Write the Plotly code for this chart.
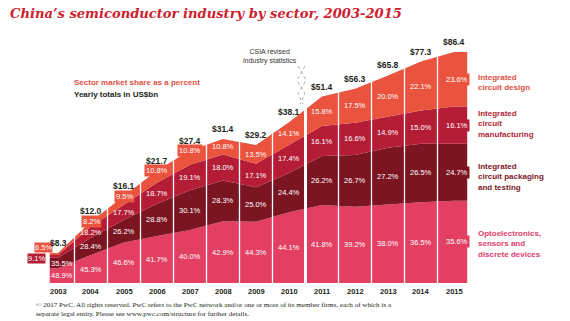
import math
import plotly.graph_objects as go

# ---------------- data ----------------
years = [2003, 2004, 2005, 2006, 2007, 2008, 2009, 2010, 2011, 2012, 2013, 2014, 2015]
totals = [8.3, 12.0, 16.1, 21.7, 27.4, 31.4, 29.2, 38.1, 51.4, 56.3, 65.8, 77.3, 86.4]
opto_share = [48.9, 45.3, 46.6, 41.7, 40.0, 42.9, 44.3, 44.1, 41.8, 39.2, 38.0, 36.5, 35.6]
packaging_share = [35.5, 28.4, 26.2, 28.8, 30.1, 28.3, 25.0, 24.4, 26.2, 26.7, 27.2, 26.5, 24.7]
manufacturing_share = [9.1, 18.2, 17.7, 18.7, 19.1, 18.0, 17.1, 17.4, 16.1, 16.6, 14.9, 15.0, 16.1]
design_share = [6.5, 8.2, 9.5, 10.8, 10.8, 10.8, 13.5, 14.1, 15.8, 17.5, 20.0, 22.1, 23.6]
sector_names = ["Optoelectronics,<br>sensors and<br>discrete devices",
                "Integrated<br>circuit packaging<br>and testing",
                "Integrated<br>circuit<br>manufacturing",
                "Integrated<br>circuit design"]
revision_year = 2010  # CSIA revised industry statistics after this year

# ---------------- styling ----------------
W, H = 570, 321
colors = ["#E23F62", "#7B1521", "#B41D35", "#EA533E"]
text_colors = ["#E0406A", "#7A1626", "#B01E36", "#E0503F"]
SANS = "Liberation Sans, Arial, sans-serif"
SERIF = "DejaVu Serif, serif"

# axes: x in years, y logarithmic (infographic column heights), segments split by share
x_px0, x_step = 58, 33
x_range = [2003 - x_px0 / x_step, 2003 + (W - x_px0) / x_step]
y_lo, y_hi = 0.5748, 2.2001
bottom_px = 283
base = 10 ** (y_lo + (H - bottom_px) / H * (y_hi - y_lo))


def X(px):
    return px / W


def Y(py):
    return 1 - py / H


shares = [opto_share, packaging_share, manufacturing_share, design_share]
n = len(years)
sums = [sum(s[i] for s in shares) for i in range(n)]


def level(i, frac):
    return base * (totals[i] / base) ** frac


cum = []
acc = [0.0] * n
for s in shares:
    lo = acc[:]
    acc = [acc[i] + s[i] / sums[i] for i in range(n)]
    cum.append((lo, acc[:]))

xs = [years[0] - 0.25] + years + [years[-1] + 0.4]


def ext(v):
    return [v[0]] + v + [v[-1]]


fig = go.Figure()
fig.add_trace(go.Scatter(x=xs, y=[base] * len(xs), mode="lines",
                         line=dict(width=0), showlegend=False, hoverinfo="skip"))
for k, s in enumerate(shares):
    top = [level(i, cum[k][1][i]) for i in range(n)]
    fig.add_trace(go.Scatter(x=xs, y=ext(top), mode="lines", line=dict(width=0),
                             fill="tonexty", fillcolor=colors[k], showlegend=False,
                             hoverinfo="skip"))

ann = []
# percentage labels (annotation y on a log axis is given in log10 units)
for k, s in enumerate(shares):
    for i in range(n):
        mid = (cum[k][0][i] + cum[k][1][i]) / 2
        d = dict(x=years[i], y=math.log10(level(i, mid)), yref="y", xref="x",
                 xanchor="center", yanchor="middle",
                 text=f"{s[i]:.1f}%", showarrow=False,
                 font=dict(family=SANS, size=7.5, color="white"))
        if i == 0 and k < 2:
            d.update(xshift=4)
        if k == 3 and i <= 4:  # thin design segment: tag box at top edge
            d.update(y=math.log10(level(i, 1.0)), bgcolor=colors[3], borderpad=1)
            if i == 0:
                d.update(xshift=-15, yshift=6, borderpad=0)
        if k == 2 and i == 0:
            d.update(xshift=-22, yshift=-2, bgcolor=colors[2], borderpad=0)
        if i == n - 1:
            d.update(bgcolor=colors[k], borderpad=1, xshift=3)
        ann.append(d)

# totals
for i in range(n):
    ann.append(dict(x=years[i], y=math.log10(totals[i]), xref="x", yref="y", yanchor="bottom",
                    xanchor="center", yshift=3, text=f"<b>${totals[i]:.1f}</b>", showarrow=False,
                    font=dict(family=SANS, size=8.5, color="#231F20")))

# year labels
for yr in years:
    ann.append(dict(x=yr, y=Y(291), xref="x", yref="paper", xanchor="center", yanchor="middle",
                    text=f"<b>{yr}</b>", showarrow=False,
                    font=dict(family=SANS, size=7.5, color="#231F20")))

# legend labels
legend_y = [244, 177, 124, 83]
for k in range(4):
    ann.append(dict(x=X(476), y=Y(legend_y[k]), xref="paper", yref="paper",
                    xanchor="left", yanchor="middle", align="left",
                    text=f"<b>{sector_names[k]}</b>", showarrow=False,
                    font=dict(family=SANS, size=8, color=text_colors[k])))

# titles & notes
ann += [
    dict(x=X(8), y=Y(13), xref="paper", yref="paper", xanchor="left", yanchor="middle",
         text="<b><i>China\u2019s semiconductor industry by sector, 2003-2015</i></b>",
         showarrow=False, font=dict(family=SERIF, size=13.1, color="#D0202E")),
    dict(x=X(72), y=Y(83), xref="paper", yref="paper", xanchor="left", yanchor="middle",
         text="<b>Sector market share as a percent</b>", showarrow=False,
         font=dict(family=SANS, size=8, color="#E2503E")),
    dict(x=X(72), y=Y(94), xref="paper", yref="paper", xanchor="left", yanchor="middle",
         text="<b>Yearly totals in US$bn</b>", showarrow=False,
         font=dict(family=SANS, size=8, color="#231F20")),
    dict(x=X(270), y=Y(56), xref="paper", yref="paper", xanchor="center", yanchor="middle",
         text="CSIA revised<br>industry statistics", showarrow=False,
         font=dict(family=SANS, size=7, color="#333333")),
    dict(x=X(34), y=Y(309.5), xref="paper", yref="paper", xanchor="left", yanchor="middle",
         align="left",
         text="\u00a9 2017 PwC. All rights reserved. PwC refers to the PwC network and/or one or more of its member firms, each of which is a<br>"
              "separate legal entity. Please see www.pwc.com/structure for further details.",
         showarrow=False, font=dict(family="Liberation Serif, serif", size=7.1, color="#231F20")),
]

# column separators
shapes = []
for yr in years[:-1]:
    brk = yr == revision_year
    shapes.append(dict(type="line", xref="x", yref="paper", x0=yr + 0.5, x1=yr + 0.5,
                       y0=0, y1=1, layer="above",
                       line=dict(color="white", width=3 if brk else 1.3)))


# break symbol
def path(pts):
    return "M" + " L".join(f"{X(a):.4f},{Y(b):.4f}" for a, b in pts)


for pts in ([(298, 66), (306, 80), (298, 94), (303, 104)],
            [(305, 66), (297, 80), (305, 94), (300, 104)]):
    shapes.append(dict(type="path", xref="paper", yref="paper", path=path(pts),
                       line=dict(color="#AAAAAA", width=1, dash="dot"), layer="above"))

fig.update_layout(
    width=W, height=H, margin=dict(l=0, r=0, t=0, b=0),
    paper_bgcolor="white", plot_bgcolor="white", showlegend=False,
    xaxis=dict(range=x_range, visible=False, fixedrange=True),
    yaxis=dict(type="log", range=[y_lo, y_hi], visible=False, fixedrange=True),
    annotations=ann, shapes=shapes,
)

fig.write_html("out.html")
